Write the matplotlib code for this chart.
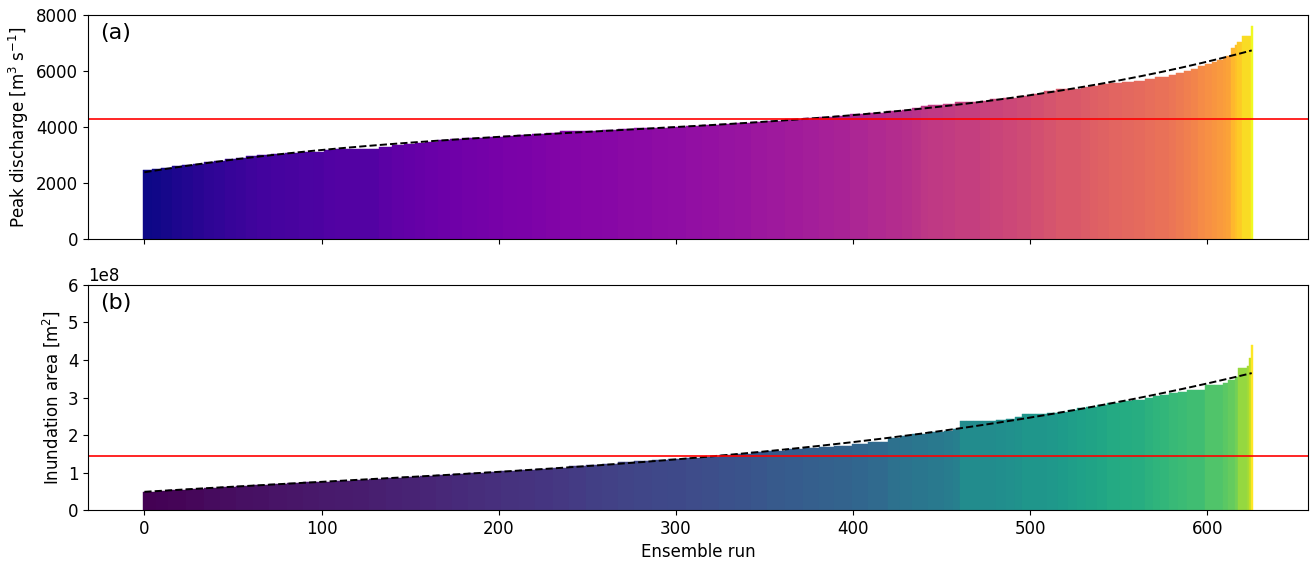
import matplotlib
matplotlib.use("Agg")
import matplotlib.pyplot as plt
import numpy as np

n_runs = 626

# peak discharge, read as steps: first run of each step and its value [m3/s]
q_step_start = [0, 5, 10, 16, 22, 28, 34, 40, 46, 52, 58, 64, 72, 80, 88, 96, 102, 108,
                133, 140, 147, 153, 159, 166, 173, 180, 188, 195, 203, 211, 219, 227, 235,
                247, 259, 268, 277, 287, 296, 306, 315, 325, 334, 343, 352, 362, 372, 381,
                390, 399, 409, 419, 428, 434, 439, 443, 451, 458, 472, 478, 485, 493, 501,
                508, 515, 529, 534, 539, 545, 552, 559, 565, 571, 579, 583, 587, 591, 595,
                599, 603, 606, 609, 611, 614, 616, 617, 620, 625]
q_step_value = [2460, 2490, 2540, 2590, 2630, 2690, 2750, 2800, 2850, 2900, 2950, 2990,
                3030, 3060, 3090, 3120, 3170, 3200, 3300, 3350, 3400, 3440, 3480, 3520,
                3560, 3590, 3620, 3650, 3690, 3720, 3760, 3800, 3840, 3860, 3890, 3920,
                3950, 3980, 4010, 4040, 4070, 4100, 4130, 4180, 4230, 4270, 4310, 4350,
                4390, 4450, 4510, 4560, 4600, 4670, 4740, 4790, 4820, 4880, 4940, 4990,
                5050, 5120, 5190, 5270, 5360, 5420, 5470, 5520, 5570, 5610, 5650, 5710,
                5780, 5840, 5920, 6000, 6080, 6170, 6260, 6330, 6400, 6460, 6530, 6810,
                6930, 7050, 7260, 7620]

# inundation area, same layout [1e8 m2]
a_step_start = [0, 7, 14, 24, 34, 43, 52, 62, 71, 81, 90, 99, 108, 118, 127, 137, 146, 156,
                165, 174, 183, 193, 202, 212, 221, 231, 240, 250, 259, 268, 277, 287, 296,
                306, 315, 325, 334, 343, 352, 362, 372, 381, 390, 400, 409, 420, 427, 434,
                443, 452, 457, 461, 481, 487, 492, 496, 510, 516, 522, 527, 532, 538, 544,
                551, 558, 565, 570, 574, 579, 584, 589, 599, 609, 612, 616, 618, 623, 624, 625]
a_step_value = [0.49, 0.51, 0.53, 0.565, 0.60, 0.625, 0.65, 0.67, 0.69, 0.715, 0.735, 0.75,
                0.765, 0.79, 0.815, 0.845, 0.87, 0.90, 0.93, 0.96, 0.99, 1.02, 1.045, 1.07,
                1.09, 1.13, 1.17, 1.21, 1.24, 1.275, 1.305, 1.335, 1.36, 1.39, 1.42, 1.455,
                1.49, 1.535, 1.58, 1.62, 1.66, 1.69, 1.715, 1.77, 1.82, 1.93, 1.975, 2.02,
                2.07, 2.12, 2.17, 2.37, 2.40, 2.44, 2.49, 2.55, 2.58, 2.62, 2.67, 2.71, 2.76,
                2.81, 2.86, 2.90, 2.93, 2.99, 3.03, 3.07, 3.12, 3.16, 3.20, 3.33, 3.40, 3.48,
                3.56, 3.78, 3.84, 4.04, 4.40]

q_reference = 4300
a_reference = 1.45  # 1e8 m2


def expand(starts, values):
    counts = np.diff(list(starts) + [n_runs])
    return np.repeat(values, counts)


def draw_panel(ax, values, cmap, ref, label):
    runs = np.arange(len(values))
    norm = plt.Normalize(values.min(), values.max())
    colors = plt.get_cmap(cmap)(norm(values))
    ax.bar(runs, values, width=1.0, color=colors, edgecolor=colors, linewidth=0.3)
    fit = np.polyval(np.polyfit(runs, values, 3), runs)
    ax.plot(runs, fit, "k--", lw=1.4)
    ax.axhline(ref, color="red", lw=1.2)
    ax.text(0.01, 0.965, label, transform=ax.transAxes, fontsize=16, va="top")
    ax.tick_params(labelsize=12)


discharge = expand(q_step_start, q_step_value)
area = expand(a_step_start, a_step_value) * 1e8

figure = plt.figure(figsize=(13.14, 5.62), dpi=100)
ax_top = figure.add_axes([0.067, 0.5747, 0.9285, 0.3986])
ax_bot = figure.add_axes([0.067, 0.0925, 0.9285, 0.4004], sharex=ax_top)

draw_panel(ax_top, discharge, "plasma", q_reference, "(a)")
ax_top.set_ylim(0, 8000)
ax_top.set_yticks([0, 2000, 4000, 6000, 8000])
ax_top.set_ylabel("Peak discharge [m$^3$ s$^{-1}$]", fontsize=12)
ax_top.tick_params(labelbottom=False)

draw_panel(ax_bot, area, "viridis", a_reference * 1e8, "(b)")
ax_bot.set_ylim(0, 6e8)
ax_bot.set_ylabel("Inundation area [m$^2$]", fontsize=12)
ax_bot.set_xlabel("Ensemble run", fontsize=12)
ax_bot.yaxis.get_offset_text().set_fontsize(12)
ax_bot.set_xticks([0, 100, 200, 300, 400, 500, 600])

figure.savefig("out.png", dpi=100)
plt.close(figure)
